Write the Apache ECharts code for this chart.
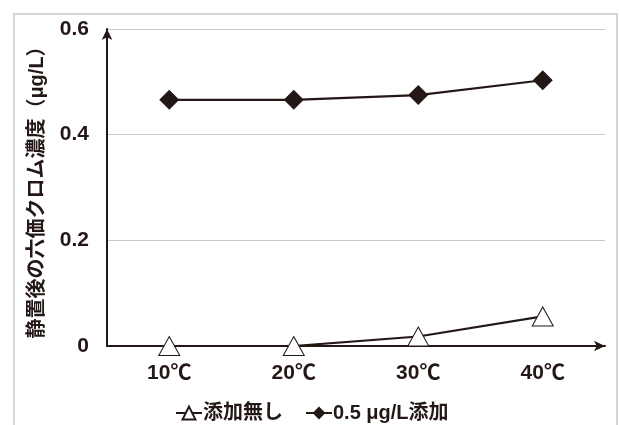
<!DOCTYPE html>
<html><head><meta charset="utf-8">
<script src="https://cdn.jsdelivr.net/npm/echarts@6/dist/echarts.min.js"></script>
<style>html,body{margin:0;padding:0;background:#fff}#c{width:619px;height:425px}</style>
</head><body><div id="c"></div>
<script>
const categories = ['10℃', '20℃', '30℃', '40℃'];
const seriesNames = ['添加無し', '0.5 μg/L添加'];
const noAddition = [0, 0, 0.018, 0.056];
const added05 = [0.466, 0.466, 0.475, 0.503];
const yTicks = [0, 0.2, 0.4, 0.6];
const yTitle = '静置後の六価クロム濃度（μg/L）';

const ink = '#231815';
const font = "'Liberation Sans', 'Noto Sans CJK JP', sans-serif";
const chart = echarts.init(document.getElementById('c'));
chart.setOption({
  animation: false,
  backgroundColor: '#fff',
  graphic: [{
    type: 'rect', shape: {x: 14, y: 14, width: 603, height: 420},
    style: {fill: 'none', stroke: '#d6d6d6', lineWidth: 2}, silent: true, z: -10
  }],
  grid: {left: 107, right: 14, top: 29, bottom: 79},
  legend: {
    left: 170, top: 398, itemWidth: 26, itemHeight: 16, itemGap: 22,
    textStyle: {fontFamily: font, fontWeight: 'bold', fontSize: 20, color: ink, padding: [0, 0, 0, -4]},
    data: seriesNames
  },
  xAxis: {
    type: 'category', data: categories, boundaryGap: true,
    axisLine: {lineStyle: {color: ink, width: 2}, symbol: ['none', 'arrow'], symbolSize: [8, 11]},
    axisTick: {show: false},
    axisLabel: {fontFamily: font, fontWeight: 'bold', fontSize: 21, color: ink, margin: 17},
    splitLine: {show: false}
  },
  yAxis: {
    type: 'value', min: yTicks[0], max: yTicks[yTicks.length - 1], interval: 0.2,
    name: yTitle, nameLocation: 'middle', nameRotate: 90, nameGap: 60,
    nameTextStyle: {fontFamily: font, fontWeight: 'bold', fontSize: 20, color: ink},
    axisLine: {show: true, lineStyle: {color: ink, width: 2}, symbol: ['none', 'arrow'], symbolSize: [8, 11]},
    axisTick: {show: false},
    axisLabel: {fontFamily: font, fontWeight: 'bold', fontSize: 21, color: ink, margin: 18,
      formatter: v => (v === 0 ? '0' : v.toFixed(1))},
    splitLine: {lineStyle: {color: '#c8c8c8', width: 1}}
  },
  series: [{
    name: seriesNames[0], type: 'line', data: noAddition,
    symbol: 'triangle', symbolSize: [21, 19],
    lineStyle: {color: ink, width: 2.2},
    itemStyle: {color: '#fff', borderColor: ink, borderWidth: 1},
    z: 3
  }, {
    name: seriesNames[1], type: 'line', data: added05,
    symbol: 'diamond', symbolSize: [20, 20],
    lineStyle: {color: ink, width: 2.2},
    itemStyle: {color: ink, borderColor: ink, borderWidth: 0},
    z: 4
  }]
});
</script></body></html>
